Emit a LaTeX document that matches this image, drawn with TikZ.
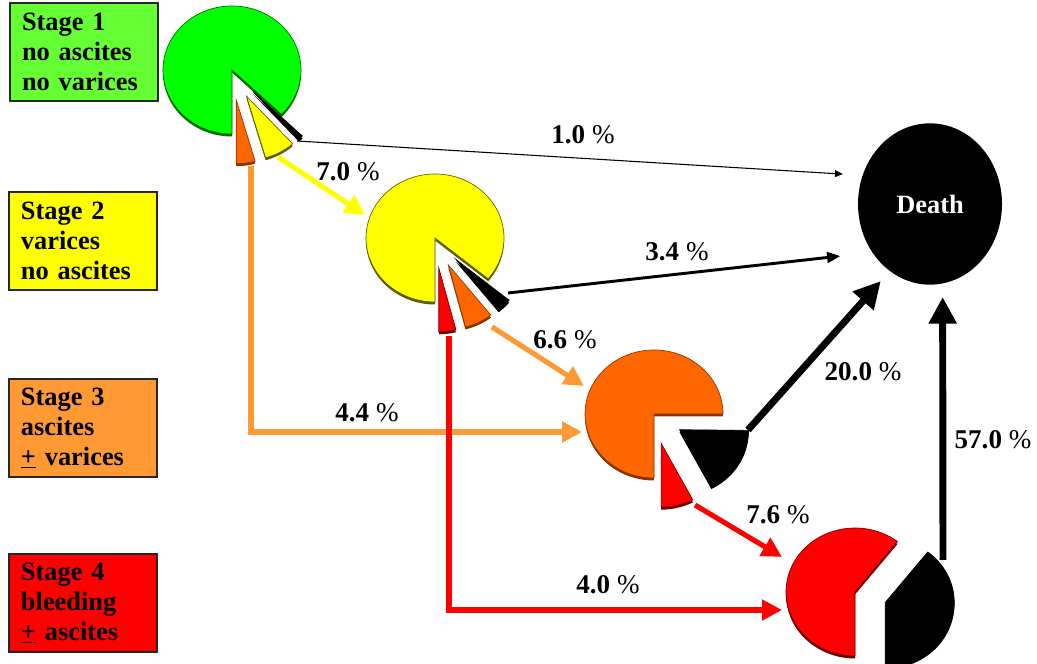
\documentclass[tikz,border=0pt]{standalone}
\usepackage{fontspec}
\setmainfont{Liberation Serif}
\usepackage{tikz}
\usetikzlibrary{arrows.meta,shapes.geometric}
\definecolor{boxgreen}{HTML}{66FF33}
\definecolor{piegreen}{HTML}{00FF00}
\definecolor{rimgreen}{HTML}{006E00}
\definecolor{stageyellow}{HTML}{FFFF00}
\definecolor{rimyellow}{HTML}{5C5C00}
\definecolor{lightorange}{HTML}{FF9933}
\definecolor{pieorange}{HTML}{FF6600}
\definecolor{rimorange}{HTML}{8A3300}
\definecolor{stagered}{HTML}{FF0000}
\definecolor{rimred}{HTML}{700000}

\begin{document}
\begin{tikzpicture}[x=0.75pt, y=0.75pt,
  stagebox/.style={draw=black!85, line width=1.4pt, minimum width=111pt,
    minimum height=74pt, text width=93pt, inner sep=0pt, align=left,
    font=\fontsize{19.8}{22.5}\selectfont\bfseries},
  pct/.style={font=\fontsize{20.3}{23}\selectfont, inner sep=1pt},
  thinflow/.style={-{Triangle[length=6pt,width=5pt]}, line width=0.8pt},
  midflow/.style={-{Triangle[length=10pt,width=8pt]}, line width=2.2pt},
  colflow/.style={-{Triangle[length=15pt,width=15pt]}, line width=3.8pt},
  heavyflow/.style={-{Triangle[length=20pt,width=20pt]}, line width=5.2pt}]
  \useasboundingbox (0,0) rectangle (1037,663);

  \newcommand{\pieslice}[7]{%
    \pgfmathsetmacro{\slicemid}{(#3+#4)/2}
    \begin{scope}[shift={(#1,#2)}, shift={(\slicemid:#5)}]
      \fill[#7] (0,-2.5) -- ++(#3:69 and 64)
        arc[start angle=#3, end angle=#4, x radius=69, y radius=64] -- cycle;
      \filldraw[fill=#6, draw=#7, line width=0.5pt] (0,0) -- (#3:69 and 64)
        arc[start angle=#3, end angle=#4, x radius=69, y radius=64] -- cycle;
    \end{scope}}

  % stages
  \node[stagebox, fill=boxgreen] (stage1) at (84,611) {Stage 1\\no ascites\\no varices};
  \node[stagebox, fill=stageyellow] (stage2) at (83,422) {Stage 2\\varices\\no ascites};
  \node[stagebox, fill=lightorange] (stage3) at (83,235) {Stage 3\\ascites\\\underline{+} varices};
  \node[stagebox, fill=stagered] (stage4) at (83,60) {Stage 4\\bleeding\\\underline{+} ascites};

  % pies
  \pieslice{232}{593}{-44}{270}{0}{piegreen}{rimgreen}
  \pieslice{232}{593}{-90}{-74}{30}{pieorange}{rimorange}
  \pieslice{232}{593}{-74}{-48}{30}{stageyellow}{rimyellow}
  \pieslice{232}{593}{-48}{-44}{30}{black}{black}

  \pieslice{435}{425}{-39.6}{270}{0}{stageyellow}{rimyellow}
  \pieslice{435}{425}{-90}{-75.6}{30}{stagered}{rimred}
  \pieslice{435}{425}{-75.6}{-51.8}{30}{pieorange}{rimorange}
  \pieslice{435}{425}{-51.8}{-39.6}{30}{black}{black}

  \pieslice{654}{249}{0}{270}{0}{pieorange}{rimorange}
  \pieslice{654}{249}{-90}{-62.6}{30}{stagered}{rimred}
  \pieslice{654}{249}{-62.6}{-0.6}{30}{black}{black}

  \pieslice{855}{71}{52}{270}{0}{stagered}{rimred}
  \pieslice{855}{71}{-90}{52}{32}{black}{black}

  \node[ellipse, fill=black, minimum width=108pt, minimum height=121pt, inner sep=0pt,
    text=white, font=\fontsize{19.8}{22}\selectfont\bfseries] (death) at (930,459) {Death};

  \coordinate (p1black) at (297,522);
  \coordinate (p1yellow) at (278,506);
  \coordinate (p1orange) at (251,497);
  \coordinate (p2in) at (365,448);
  \coordinate (p2black) at (508,370);
  \coordinate (p2orange) at (492,336);
  \coordinate (p2red) at (449,327);
  \coordinate (p3in) at (584,277);
  \coordinate (p3side) at (582,231);
  \coordinate (p3black) at (748,233);
  \coordinate (p3red) at (695,158);
  \coordinate (p4in) at (782,106);
  \coordinate (p4side) at (782,53);
  \coordinate (p4black) at (943,103);

  % flows
  \draw[thinflow, shorten >=14.6] (p1black) -- (death.157);
  \draw[colflow, color=stageyellow] (p1yellow) -- (p2in);
  \draw[colflow, color=lightorange] (p1orange) |- (p3side);
  \draw[midflow, shorten >=24] (p2black) -- (death.220);
  \draw[colflow, color=lightorange] (p2orange) -- (p3in);
  \draw[colflow, color=stagered] (p2red) |- (p4side);
  \draw[heavyflow, shorten >=10] (p3black) -- (death.239);
  \draw[colflow, color=stagered] (p3red) -- (p4in);
  \draw[heavyflow, shorten >=10] (p4black) -- (death.279);

  \node[pct] (l10) at (583,528) {\textbf{1.0} \%};
  \node[pct] (l70) at (348,491) {\textbf{7.0} \%};
  \node[pct] (l44) at (367,250) {\textbf{4.4} \%};
  \node[pct] (l34) at (677,411) {\textbf{3.4} \%};
  \node[pct] (l66) at (565,323) {\textbf{6.6} \%};
  \node[pct] (l40) at (608,78) {\textbf{4.0} \%};
  \node[pct] (l200) at (863,291) {\textbf{20.0} \%};
  \node[pct] (l76) at (778,148) {\textbf{7.6} \%};
  \node[pct] (l570) at (993,223) {\textbf{57.0} \%};
\end{tikzpicture}
\end{document}
